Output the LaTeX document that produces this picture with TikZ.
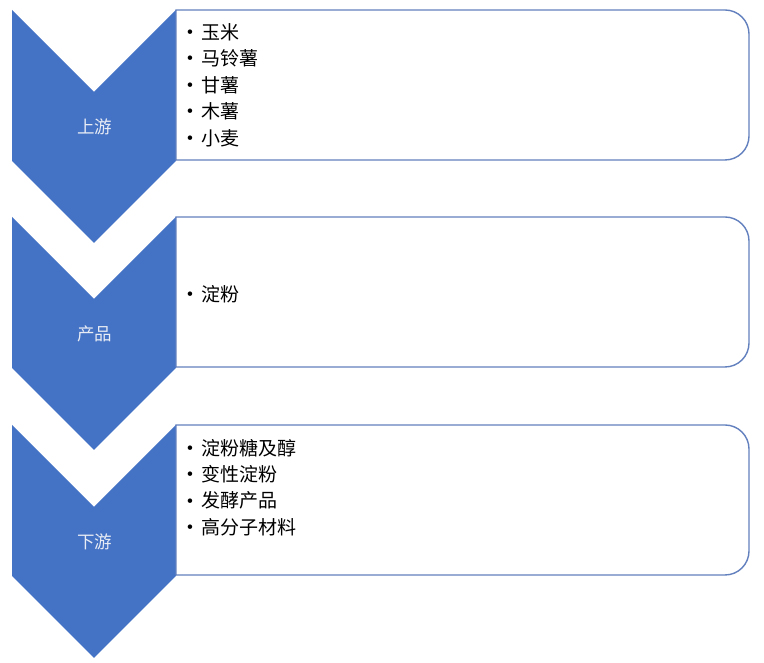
\documentclass[tikz,border=0pt]{standalone}
\usepackage{fontspec}
\newfontfamily\cjk{Noto Sans CJK SC}
\definecolor{chevblue}{RGB}{68,114,196}
\definecolor{boxline}{RGB}{98,128,190}
\definecolor{labelc}{RGB}{232,236,245}
\tikzset{
  chevron/.style={fill=chevblue, draw=none},
  listbox/.style={draw=boxline, line width=1.4pt, fill=white},
  chevlabel/.style={text=labelc, font=\cjk\fontsize{17.5}{19}\selectfont, inner sep=0pt},
  bul/.style={font=\fontsize{20}{20}\selectfont, inner sep=0pt, anchor=base, yshift=-5.5pt},
  item/.style={anchor=west, font=\cjk\fontsize{19}{21}\selectfont, inner sep=0pt}
}
\newcommand{\rowshape}[1]{%
  \begin{scope}[shift={(0,#1)}]
    \fill[chevron] (12,0) -- (94,-82) -- (176,0) -- (176,-151) -- (94,-233) -- (12,-151) -- cycle;
    \draw[listbox] (176,0) -- (725,0) arc[start angle=90, end angle=0, radius=24]
      -- (749,-126) arc[start angle=0, end angle=-90, radius=24] -- (176,-150) -- cycle;
  \end{scope}}
\begin{document}
\begin{tikzpicture}[x=1pt,y=1pt]
\useasboundingbox (0,0) rectangle (764,663);
\fill[white] (0,0) rectangle (764,663);
\rowshape{653}
\rowshape{446}
\rowshape{238}
% labels
\node[chevlabel] (l1) at (95,536) {上游};
\node[chevlabel] (l2) at (95,329) {产品};
\node[chevlabel] (l3) at (95,121) {下游};
% row 1 items
\foreach \t [count=\i] in {玉米,马铃薯,甘薯,木薯,小麦}{
  \node[bul] (b1\i) at (190,{653-22-(\i-1)*26.5}) {\textbullet};
  \node[item] (a1\i) at (201,{653-22-(\i-1)*26.5}) {\t};
}
% row 2
\node[bul] (b21) at (190,369) {\textbullet};
\node[item] (a21) at (201,369) {淀粉};
% row 3
\foreach \t [count=\i] in {淀粉糖及醇,变性淀粉,发酵产品,高分子材料}{
  \node[bul] (b3\i) at (190,{238-23-(\i-1)*26.3}) {\textbullet};
  \node[item] (a3\i) at (201,{238-23-(\i-1)*26.3}) {\t};
}
\end{tikzpicture}
\end{document}
